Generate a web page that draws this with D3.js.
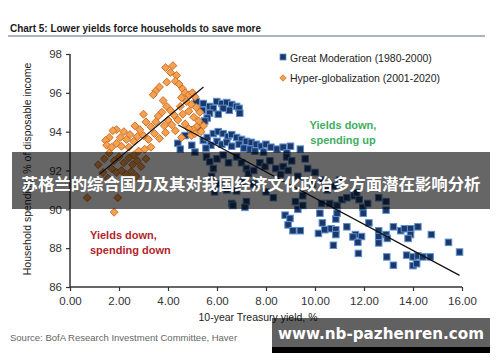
<!DOCTYPE html>
<html><head><meta charset="utf-8">
<script src="https://cdn.jsdelivr.net/npm/d3@7/dist/d3.min.js"></script>
<style>body{margin:0;background:#fff}svg{display:block}</style>
</head><body>
<script>
// ---- data ----
const titleText = "Chart 5: Lower yields force households to save more";
const seriesNames = ["Great Moderation (1980-2000)", "Hyper-globalization (2001-2020)"];
const xTicks = [0, 2, 4, 6, 8, 10, 12, 14, 16];
const yTicks = [86, 88, 90, 92, 94, 96, 98];
const xLabel = "10-year Treasury yield, %";
const yLabel = "Household spending, % of disposable income";
const sourceText = "Source: BofA Research Investment Committee, Haver";
const bannerText = "苏格兰的综合国力及其对我国经济文化政治多方面潜在影响分析";
const watermarkText = "www.nb-pazhenren.com";

// Great Moderation (1980-2000): [yield, spending]
const greatModeration = [
 [5.15,95.55],[5.44,95.45],[5.7,95.3],[5.99,95.55],[6.2,95.45],[6.4,95.5],[6.6,95.4],[6.8,95.3],[6.5,95.1],[6.25,95.2],
 [5.85,95.2],[5.7,94.95],[5.6,94.7],[5.4,95.1],[6.9,95.2],[6.93,94.95],[6.05,94.9],[5.5,94.55],[5.25,94.2],[5.0,94.1],
 [4.4,93.4],[4.7,93.8],[4.97,93.3],[4.5,93.1],[5.1,92.95],[5.44,93.55],[5.6,93.7],[5.85,93.9],[6.05,94.0],[6.25,93.9],
 [6.45,93.75],[6.6,93.85],[6.8,93.7],[7.0,93.6],[7.2,93.5],[7.4,93.45],[7.6,93.35],[7.8,93.25],[8.0,93.35],[8.2,93.2],
 [8.45,93.1],[6.0,93.5],[6.2,93.35],[6.4,93.45],[5.75,93.3],[5.55,93.15],[6.6,93.25],[6.9,93.35],[7.1,93.15],[7.35,93.1],
 [7.55,93.0],[7.9,92.95],[8.7,93.2],[9.0,93.25],[9.4,93.1],[8.85,92.9],
 [5.57,92.7],[5.7,92.45],[5.85,92.1],[5.78,91.7],[6.0,92.6],[6.25,92.8],[6.47,92.4],[6.8,92.7],[7.0,92.4],[7.2,92.1],
 [7.28,91.85],[7.5,92.0],[7.75,92.4],[7.96,92.2],[8.16,92.5],[8.4,92.1],[8.6,91.8],[8.84,92.7],[9.05,92.5],[9.6,92.6],
 [8.7,92.2],[8.9,92.0],[9.3,91.7],[9.7,92.1],[10.0,91.9],[10.3,91.5],[9.9,91.3],[10.27,90.3],[10.6,90.3],[10.9,90.2],
 [11.1,90.5],[11.3,90.6],[11.6,90.7],[11.8,90.5],[11.95,90.1],[12.15,90.3],[11.7,90.85],[10.5,91.0],[10.8,91.2],[11.0,91.5],
 [6.1,91.3],[6.4,91.0],[6.8,90.95],[7.0,91.4],[7.5,91.3],[6.6,90.3],[7.2,90.4],[8.0,90.9],[8.3,90.6],[9.2,90.4],
 [9.5,90.7],[12.6,90.6],[12.9,90.4],[5.9,90.9],[6.65,90.2],[7.14,90.1],
 [8.78,89.7],[8.98,89.53],[8.9,89.2],[9.1,88.9],[9.4,88.9],[9.3,90.0],[9.5,90.2],[10.14,88.76],[10.2,89.8],[10.3,89.3],
 [10.4,88.95],[10.66,89.0],[10.85,88.95],[10.85,89.5],[10.9,89.8],[10.75,88.15],[10.85,88.7],[11.3,89.1],[11.65,88.7],[11.55,88.58],
 [11.9,88.6],[11.75,88.3],[11.77,87.73],[11.97,89.8],[12.2,89.3],[12.6,88.9],[12.6,88.6],[12.6,88.27],[12.9,88.7],[12.95,88.5],
 [12.93,87.55],[13.2,87.12],[13.2,89.1],[13.5,88.9],[13.65,89.0],[13.9,89.0],[14.2,89.1],[13.9,88.7],[13.8,88.5],[13.74,87.64],
 [14.0,87.55],[14.2,87.6],[14.4,87.55],[14.7,87.55],[14.0,87.1],[14.15,87.2],[14.75,88.7],[15.45,88.3],[15.9,87.8],[12.9,89.96]
];

// Hyper-globalization (2001-2020): [yield, spending]
const hyperGlobalization = [
 [3.9,97.3],[4.2,97.4],[4.1,97.05],[4.35,96.9],[4.3,96.6],[3.95,96.55],[4.45,96.45],[3.5,96.1],[3.65,96.3],[3.4,95.9],
 [4.6,96.2],[4.7,96.0],[4.85,95.9],[5.0,96.0],[5.1,95.8],[4.55,95.75],[4.75,95.55],[4.95,95.4],[5.15,95.25],[5.3,95.0],
 [4.85,95.05],[5.05,94.75],[5.25,94.55],[5.45,94.3],[5.35,94.0],[5.17,94.25],[5.03,94.1],
 [3.8,95.6],[3.95,95.3],[3.75,95.0],[3.6,94.8],[4.1,95.1],[4.25,94.85],[4.4,94.6],[4.5,95.3],[4.6,94.9],
 [4.7,94.4],[4.85,94.15],[4.95,93.8],[5.1,93.9],[4.15,94.35],[4.0,94.6],[3.85,94.3],[3.5,94.5],[3.3,94.25],[3.1,94.5],
 [3.0,94.9],[2.85,94.1],[2.65,94.3],[2.45,93.85],[2.3,93.6],[2.2,94.0],[2.05,93.7],[1.9,94.1],[1.75,94.05],[1.6,93.7],
 [1.45,93.55],[1.5,93.3],[1.7,93.2],[1.9,93.4],[2.1,93.25],[2.4,93.2],[2.6,93.5],[2.75,93.75],[3.0,93.8],[3.2,93.6],
 [3.45,93.9],[3.65,93.65],[3.9,93.95],[4.3,94.05],[4.55,93.7],[2.6,92.8],[2.8,93.0],[3.05,93.1],[3.3,93.2],
 [1.15,92.3],[1.4,92.6],[1.6,92.9],[1.8,92.5],[2.0,92.7],[2.2,92.4],[2.4,92.65],[2.55,92.3],[2.75,92.5],[2.9,92.2],
 [3.1,92.6],[1.7,92.1],[1.9,91.9],[2.1,92.0],[2.3,91.8],[2.5,91.95],[2.7,91.7],[1.35,91.9],[1.55,91.6],
 [0.7,90.6],[1.95,90.6],[1.8,89.85]
];

// fitted trend lines (endpoints)
const trendGreat = [[4.42,94.34],[15.9,86.6]];
const trendHyper = [[1.2,91.8],[5.45,96.3]];

// ---- drawing ----
const W = 500, H = 362;
const svg = d3.select("body").append("svg").attr("width", W).attr("height", H)
  .style("font-family", "Liberation Sans, Arial, sans-serif");

const x = d3.scaleLinear().domain([0, 16]).range([70, 462]);
const y = d3.scaleLinear().domain([86, 98]).range([287, 54]);

// title
svg.append("text").attr("x", 10).attr("y", 32)
  .style("font-family", "Liberation Sans Narrow, Arial Narrow, sans-serif")
  .style("font-weight", "bold").style("font-size", "11.5px").attr("fill", "#1a1a1a")
  .attr("textLength", 251).attr("lengthAdjust", "spacingAndGlyphs")
  .text(titleText);
svg.append("line").attr("x1", 8).attr("x2", 485).attr("y1", 36).attr("y2", 36)
  .attr("stroke", "#8d9cb0").attr("stroke-width", 1.5);

// axes
const xAxis = d3.axisBottom(x).tickValues(xTicks).tickSize(4).tickFormat(d3.format(".2f"));
const yAxis = d3.axisLeft(y).tickValues(yTicks).tickSize(4).tickFormat(d3.format("d"));
const gx = svg.append("g").attr("transform", "translate(0,287)").call(xAxis);
const gy = svg.append("g").attr("transform", "translate(70,0)").call(yAxis);
[gx, gy].forEach(g => {
  g.select(".domain").attr("stroke", "#333").attr("stroke-width", 1.5);
  g.selectAll(".tick line").attr("stroke", "#333").attr("stroke-width", 1.2);
  g.selectAll(".tick text").attr("fill", "#333").style("font-size", "11.5px")
    .style("font-family", "Liberation Sans, Arial, sans-serif");
});
gx.select(".domain").attr("d", "M70,0H462");
gy.select(".domain").attr("d", "M0,54V287");
gx.selectAll(".tick text").attr("dy", "0.95em");
gy.selectAll(".tick text").attr("x", -8);

// axis labels
svg.append("text").attr("x", 258).attr("y", 321).attr("text-anchor", "middle")
  .style("font-size", "10.5px").attr("fill", "#222").text(xLabel);
svg.append("text").attr("transform", "translate(31,169) rotate(-90)").attr("text-anchor", "middle")
  .style("font-size", "10.5px").attr("fill", "#222").text(yLabel);

// points
const plot = svg.append("g");
const sq = 6.5;
plot.selectAll("rect.gm").data(greatModeration).join("rect").attr("class", "gm")
  .attr("x", d => x(d[0]) - sq/2).attr("y", d => y(d[1]) - sq/2)
  .attr("width", sq).attr("height", sq)
  .attr("fill", "#1c3866").attr("stroke", "#5b8fd3").attr("stroke-width", 1);
const diamond = d3.symbol().type(d3.symbolDiamond2).size(40);
plot.selectAll("path.hg").data(hyperGlobalization).join("path").attr("class", "hg")
  .attr("transform", d => `translate(${x(d[0])},${y(d[1])})`)
  .attr("d", diamond)
  .attr("fill", "#f4a24e").attr("stroke", "#cf6e2e").attr("stroke-width", 1);

// trend lines
const line = d3.line().x(d => x(d[0])).y(d => y(d[1]));
svg.append("path").attr("d", line(trendHyper)).attr("stroke", "#111").attr("stroke-width", 1.2).attr("fill", "none");
svg.append("path").attr("d", line(trendGreat)).attr("stroke", "#111").attr("stroke-width", 1.2).attr("fill", "none");

// legend
svg.append("rect").attr("x", 280).attr("y", 54).attr("width", 6).attr("height", 6)
  .attr("fill", "#1c3866").attr("stroke", "#5b8fd3").attr("stroke-width", 0.8);
svg.append("path").attr("transform", "translate(283,78)").attr("d", d3.symbol().type(d3.symbolDiamond2).size(26))
  .attr("fill", "#f4a24e").attr("stroke", "#cf6e2e").attr("stroke-width", 0.8);
svg.append("text").attr("x", 290).attr("y", 61.5).style("font-size", "10.5px").attr("fill", "#222").text(seriesNames[0]);
svg.append("text").attr("x", 290).attr("y", 81.5).style("font-size", "10.5px").attr("fill", "#222").text(seriesNames[1]);

// annotations
const green = svg.append("text").attr("text-anchor", "middle").style("font-size", "11px")
  .style("font-weight", "bold").attr("fill", "#3fae62");
green.append("tspan").attr("x", 343).attr("y", 129).text("Yields down,");
green.append("tspan").attr("x", 343).attr("y", 143.5).text("spending up");
const red = svg.append("text").style("font-size", "11px").style("font-weight", "bold").attr("fill", "#b3262c");
red.append("tspan").attr("x", 90).attr("y", 239).text("Yields down,");
red.append("tspan").attr("x", 90).attr("y", 254).text("spending down");

// source
svg.append("text").attr("x", 10).attr("y", 341)
  .style("font-family", "Liberation Sans Narrow, Arial Narrow, sans-serif")
  .style("font-size", "9.5px").attr("fill", "#666").text(sourceText);

// banner overlay
svg.append("rect").attr("x", 12).attr("y", 152).attr("width", 478).attr("height", 57)
  .attr("fill", "#000").attr("fill-opacity", 0.6);
svg.append("text").attr("x", 251).attr("y", 190).attr("text-anchor", "middle")
  .style("font-family", "Noto Sans CJK SC, sans-serif").style("font-weight", "bold")
  .style("font-size", "16.4px").attr("fill", "#fff").text(bannerText);

// watermark
svg.append("rect").attr("x", 272).attr("y", 318).attr("width", 218).attr("height", 35)
  .attr("fill", "#000").attr("fill-opacity", 0.62);
svg.append("rect").attr("x", 272).attr("y", 347).attr("width", 218).attr("height", 6)
  .attr("fill", "#000");
svg.append("text").attr("x", 381).attr("y", 339).attr("text-anchor", "middle")
  .style("font-family", "DejaVu Sans, sans-serif").style("font-weight", "bold")
  .style("font-size", "16px").attr("fill", "#fff")
  .attr("textLength", 206).attr("lengthAdjust", "spacingAndGlyphs").text(watermarkText);
</script>
</body></html>
